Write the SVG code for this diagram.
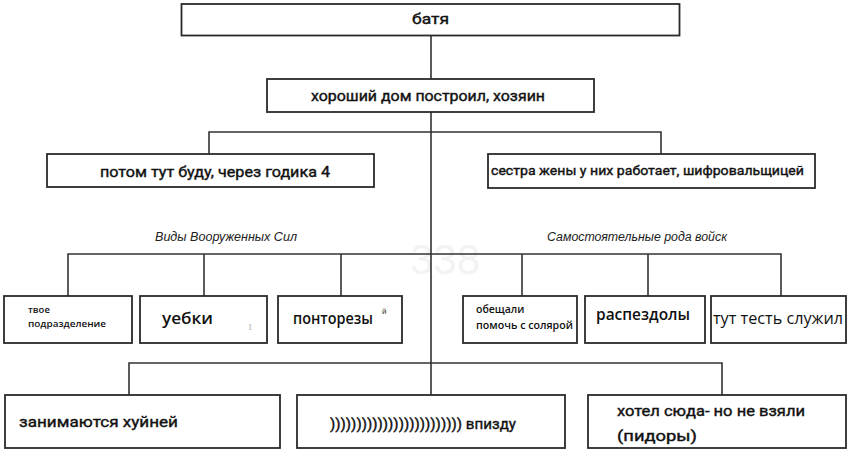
<svg xmlns="http://www.w3.org/2000/svg" width="849" height="451" viewBox="0 0 849 451">
<style>
.box{fill:#fff;stroke:#2a2a2a;stroke-width:1.8}
.ln{fill:none;stroke:#333;stroke-width:1.6}
.n{font-family:"Roboto","Liberation Sans",sans-serif;font-weight:normal;fill:#111;stroke:#111;stroke-width:0.4}
.os{font-family:"Open Sans","Noto Sans",sans-serif;font-weight:600;fill:#111}
.it{font-family:"Liberation Sans",Arial,sans-serif;font-style:italic;font-size:12px;fill:#222}
.cal{font-family:"Open Sans","Noto Sans",sans-serif;fill:#111}
</style>
<rect width="849" height="451" fill="#fff"/>
<text x="445" y="274" font-family="Liberation Sans,sans-serif" font-size="42" fill="#f3f3f3" text-anchor="middle">338</text>
<g id="connectors">
<path class="ln" d="M431 35V363"/>
<path class="ln" d="M209 154V132H661V154"/>
<path class="ln" d="M68 296V254H781V296M204 254V296M341 254V296M522 254V296M648 254V296"/>
<path class="ln" d="M129 395V363H722V395M431 363V395"/>
</g>
<g id="n-batya"><rect class="box" x="181.5" y="4" width="498" height="31.5"/><text class="n" x="412" y="24" font-size="15" textLength="37" lengthAdjust="spacingAndGlyphs">батя</text></g>
<g id="n-dom"><rect class="box" x="267" y="79" width="327" height="33"/><text class="n" x="311" y="101" font-size="15" textLength="234" lengthAdjust="spacingAndGlyphs">хороший дом построил, хозяин</text></g>
<g id="n-potom"><rect class="box" x="47" y="154" width="327" height="33"/><text class="n" x="100" y="177" font-size="15" textLength="230" lengthAdjust="spacingAndGlyphs">потом тут буду, через годика 4</text></g>
<g id="n-sestra"><rect class="box" x="488" y="154" width="327" height="34"/><text class="n" x="491" y="175" font-size="13.5" textLength="313" lengthAdjust="spacingAndGlyphs">сестра жены у них работает, шифровальщицей</text></g>
<text class="it" x="155" y="241" textLength="142" lengthAdjust="spacingAndGlyphs">Виды Вооруженных Сил</text>
<text class="it" x="547" y="241" textLength="180" lengthAdjust="spacingAndGlyphs">Самостоятельные рода войск</text>
<g id="n-tvoe"><rect class="box" x="4" y="296" width="128" height="47"/><text class="os" x="28" y="313" font-size="9.5">твое</text><text class="os" x="28" y="327" font-size="9.5" textLength="78" lengthAdjust="spacingAndGlyphs">подразделение</text></g>
<g id="n-uebki"><rect class="box" x="140" y="296" width="127" height="47"/><text class="os" x="162" y="324" font-size="16" textLength="51" lengthAdjust="spacingAndGlyphs">уебки</text><text x="248" y="330" font-family="Liberation Serif,serif" font-size="8" fill="#999">1</text></g>
<g id="n-ponto"><rect class="box" x="278" y="296" width="124" height="47"/><text class="os" x="293" y="324" font-size="16" textLength="80" lengthAdjust="spacingAndGlyphs">понторезы</text><text x="382" y="314" font-family="Liberation Sans,sans-serif" font-size="8" fill="#333">й</text></g>
<g id="n-obesh"><rect class="box" x="463" y="296" width="114" height="47"/><text class="os" x="476" y="313" font-size="10.5">обещали</text><text class="os" x="476" y="329" font-size="10.5" textLength="97" lengthAdjust="spacingAndGlyphs">помочь с солярой</text></g>
<g id="n-rasp"><rect class="box" x="585" y="296" width="120" height="47"/><text class="os" x="596" y="320" font-size="16" font-weight="bold" textLength="94" lengthAdjust="spacingAndGlyphs">распездолы</text></g>
<g id="n-test"><rect class="box" x="711" y="296" width="135" height="47"/><text class="cal" x="713" y="324" font-size="16" textLength="130" lengthAdjust="spacingAndGlyphs">тут тесть служил</text></g>
<g id="n-zanim"><rect class="box" x="5" y="395" width="275" height="53"/><text class="n" x="19" y="427" font-size="15" textLength="159" lengthAdjust="spacingAndGlyphs">занимаются хуйней</text></g>
<g id="n-vpizdu"><rect class="box" x="297" y="395" width="268" height="53"/><text class="n" x="330" y="429" font-size="15" textLength="186" lengthAdjust="spacingAndGlyphs">))))))))))))))))))))))))) впизду</text></g>
<g id="n-hotel"><rect class="box" x="588" y="395" width="258" height="53"/><text class="n" x="617" y="416" font-size="15" textLength="188" lengthAdjust="spacingAndGlyphs">хотел сюда- но не взяли</text><text class="n" x="617" y="441" font-size="15" textLength="80" lengthAdjust="spacingAndGlyphs">(пидоры)</text></g>
</svg>
